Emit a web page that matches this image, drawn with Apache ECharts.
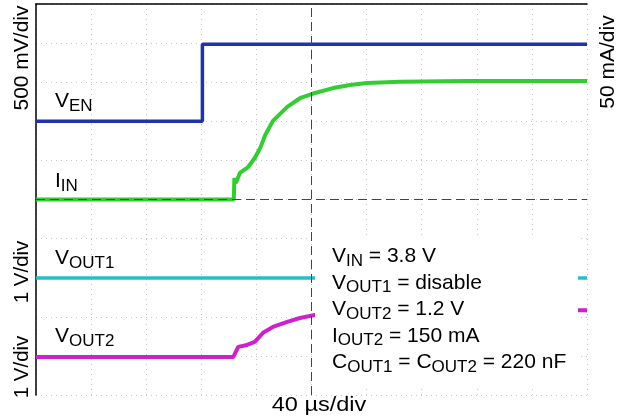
<!DOCTYPE html>
<html>
<head>
<meta charset="utf-8">
<script src="https://cdn.jsdelivr.net/npm/echarts@6/dist/echarts.min.js"></script>
<style>
html,body{margin:0;padding:0;background:#fff;}
#chart{width:619px;height:417px;}
</style>
</head>
<body>
<div id="chart"></div>
<script>
// Time axis in divisions (40 µs/div), vertical axis in screen divisions
const xTicks = [0,1,2,3,4,5,6,7,8,9,10];
const yTicks = [0,1,2,3,4,5,6,7,8,9,10];

// V_EN trace (500 mV/div)
const vEN = [[0,7.0],[3.02,7.0],[3.02,8.97],[10,8.97]];
// I_IN trace (50 mA/div)
const iIN = [[0,5.0],[3.59,5.0],[3.60,5.55],[3.62,5.42],[3.65,5.50],[3.70,5.68],[3.85,5.83],[3.97,6.06],[4.07,6.32],[4.16,6.65],[4.30,7.01],[4.56,7.37],[4.79,7.59],[5.03,7.71],[5.39,7.85],[5.70,7.93],[6.01,7.98],[6.61,8.01],[7.82,8.03],[10,8.03]];
// V_OUT1 trace (1 V/div)
const vOUT1 = [[0,2.99],[10,2.99]];
// V_OUT2 trace (1 V/div)
const vOUT2 = [[0,0.97],[3.58,0.97],[3.67,1.23],[3.83,1.28],[3.97,1.36],[4.12,1.59],[4.30,1.74],[4.56,1.87],[4.79,1.97],[4.97,2.02],[5.15,2.07],[5.9,2.13],[7.0,2.16],[10,2.17]];

const FONT = "'Liberation Sans', Arial, Helvetica, sans-serif";
const rich = {
  m: {fontSize: 21, lineHeight: 26.5, fontFamily: FONT, fill: '#000'},
  s: {fontSize: 17, lineHeight: 15, fontFamily: FONT, fill: '#000', verticalAlign: 'bottom'}
};
function label(x, y, text) {
  return {type: 'text', x: x, y: y, z: 101,
    style: {legacy: false, text: text, rich: rich, fontSize: 21, fontFamily: FONT, fill: '#000', align: 'left', verticalAlign: 'top'}};
}
function rot(x, y, text, size) {
  return {type: 'text', x: x, y: y, rotation: Math.PI / 2, z: 101,
    style: {legacy: false, text: text, fontSize: size, fontFamily: FONT, fill: '#000', align: 'center', verticalAlign: 'middle'}};
}

const chart = echarts.init(document.getElementById('chart'), null, {renderer: 'canvas'});
const traceBase = {type: 'line', showSymbol: false, symbol: 'none', animation: false, z: 3};
chart.setOption({
  animation: false,
  backgroundColor: '#fff',
  grid: {left: 36, right: 32, top: 4, bottom: 22, containLabel: false},
  xAxis: [{
    type: 'value', min: xTicks[0], max: xTicks[xTicks.length - 1], interval: 1, position: 'bottom',
    axisLine: {show: false}, axisTick: {show: false}, axisLabel: {show: false},
    splitLine: {show: true, lineStyle: {color: '#c4c4c4', type: [1, 4], width: 1}}
  }, {
    type: 'value', min: 0, max: 10, position: 'top',
    axisLine: {show: true, onZero: false, lineStyle: {color: '#000', width: 1.5}},
    axisTick: {show: false}, axisLabel: {show: false}, splitLine: {show: false}
  }],
  yAxis: [{
    type: 'value', min: yTicks[0], max: yTicks[yTicks.length - 1], interval: 1,
    axisLine: {show: true, onZero: false, lineStyle: {color: '#000', width: 1.5}},
    axisTick: {show: false}, axisLabel: {show: false},
    splitLine: {show: true, lineStyle: {color: '#c4c4c4', type: [1, 4], width: 1}}
  }],
  series: [
    {type: 'line', data: [], z: 1, silent: true,
     markLine: {silent: true, symbol: 'none', animation: false, label: {show: false},
       lineStyle: {color: '#444', type: [9, 5], width: 1},
       data: [{xAxis: 5}, {yAxis: 5}]}},
    Object.assign({}, traceBase, {name: 'VEN', data: vEN, lineStyle: {color: '#2233aa', width: 3.5}}),
    Object.assign({}, traceBase, {name: 'IIN', data: iIN, lineStyle: {color: '#33cc33', width: 4}}),
    Object.assign({}, traceBase, {name: 'VOUT1', data: vOUT1, lineStyle: {color: '#22c0c8', width: 3.5}}),
    Object.assign({}, traceBase, {name: 'VOUT2', data: vOUT2, lineStyle: {color: '#cc22cc', width: 4}})
  ],
  graphic: [
    {type: 'rect', z: 100, shape: {x: 315, y: 236, width: 263, height: 152}, style: {fill: '#fff'}},
    label(332, 243, '{m|V}{s|IN}{m| = 3.8 V}\n{m|V}{s|OUT1}{m| = disable}\n{m|V}{s|OUT2}{m| = 1.2 V}\n{m|I}{s|OUT2}{m| = 150 mA}\n{m|C}{s|OUT1}{m| = C}{s|OUT2}{m| = 220 nF}'),
    label(55, 88, '{m|V}{s|EN}'),
    label(55, 168, '{m|I}{s|IN}'),
    label(55, 245, '{m|V}{s|OUT1}'),
    label(55, 323, '{m|V}{s|OUT2}'),
    rot(22, 58, '500 mV/div', 21),
    rot(608, 62, '50 mA/div', 21),
    rot(22, 272, '1 V/div', 20.5),
    rot(22, 367, '1 V/div', 20.5),
    {type: 'text', x: 319, y: 405, z: 101, scaleX: 1.12,
     style: {legacy: false, text: '40 µs/div', fontSize: 21, fontFamily: FONT, fill: '#000', align: 'center', verticalAlign: 'middle'}}
  ]
});
</script>
</body>
</html>
